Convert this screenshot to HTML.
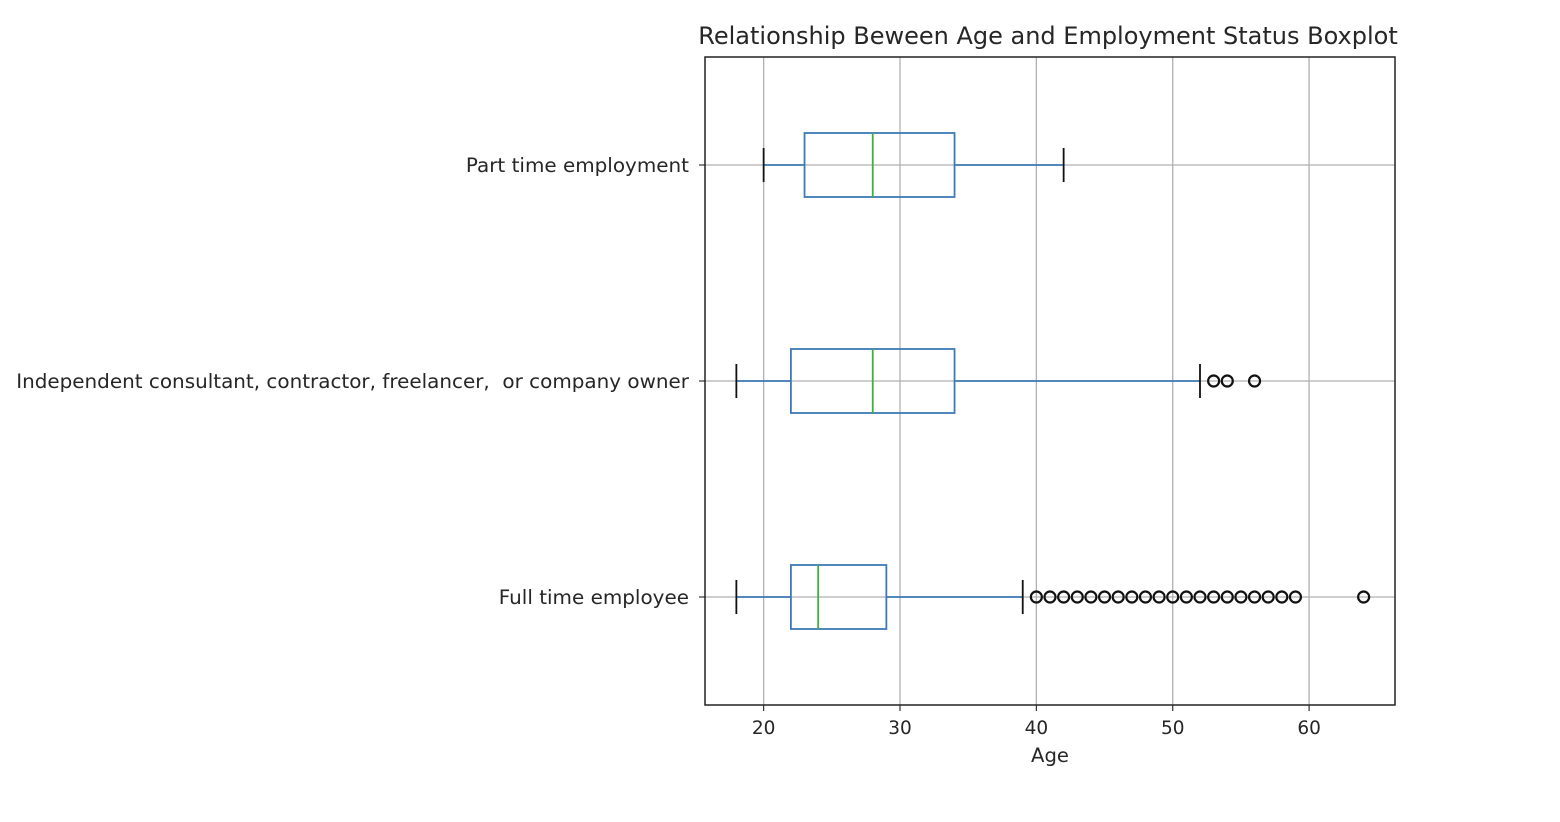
<!DOCTYPE html>
<html><head><meta charset="utf-8"><style>
html,body{margin:0;padding:0;background:#fff;width:1560px;height:822px;overflow:hidden}
svg text{font-family:"DejaVu Sans","Liberation Sans",sans-serif;fill:#262626;white-space:pre}
</style></head><body>
<svg id="chart" width="1560" height="822"></svg>
<script>
const categories=["Full time employee","Independent consultant, contractor, freelancer,  or company owner","Part time employment"];
const whiskerLow=[18,18,20];
const q1=[22,22,23];
const medians=[24,28,28];
const q3=[29,34,34];
const whiskerHigh=[39,52,42];
const outliers=[[40,41,42,43,44,45,46,47,48,49,50,51,52,53,54,55,56,57,58,59,64],[53,54,56],[]];
const xTicks=[20,30,40,50,60];
const NS="http://www.w3.org/2000/svg";
const svg=document.getElementById('chart');
const L=705,R=1395,T=57,B=705,xmin=15.7,xmax=66.3;
const xs=v=>L+(v-xmin)/(xmax-xmin)*(R-L);
const ys=i=>B-(i+0.5)/categories.length*(B-T);
function mk(tag,attrs,parent){const e=document.createElementNS(NS,tag);for(const k in attrs)e.setAttribute(k,attrs[k]);(parent||svg).appendChild(e);return e;}
xTicks.forEach(t=>{
 const g=mk('line',{x1:xs(t),x2:xs(t),y1:T,y2:B,stroke:'#b0b0b0','stroke-width':1.3});
 
 
 const tk=mk('line',{x1:xs(t),x2:xs(t),y1:B,y2:B+6,stroke:'#333','stroke-width':1.2});
 
 
 const tx=mk('text',{x:xs(t),y:B+29,'text-anchor':'middle','font-size':18.5});
 tx.textContent=t;
 
 
});
categories.forEach((c,i)=>{
 const y=ys(i);
 const gl=mk('line',{x1:L,x2:R,y1:y,y2:y,stroke:'#b0b0b0','stroke-width':1.3});
 
 
 const tk=mk('line',{x1:L-6,x2:L,y1:y,y2:y,stroke:'#333','stroke-width':1.2});
 
 
 const tx=mk('text',{x:L-16,y:y+7,'text-anchor':'end','font-size':19.95});
 tx.textContent=c;
 
 
 const g=mk('g',{});
 
 
 const h=32,blue='#3d7ab8';
 mk('line',{x1:xs(whiskerLow[i]),x2:xs(q1[i]),y1:y,y2:y,stroke:blue,'stroke-width':1.8},g);
 mk('line',{x1:xs(q3[i]),x2:xs(whiskerHigh[i]),y1:y,y2:y,stroke:blue,'stroke-width':1.8},g);
 mk('line',{x1:xs(whiskerLow[i]),x2:xs(whiskerLow[i]),y1:y-17,y2:y+17,stroke:'#111','stroke-width':1.8},g);
 mk('line',{x1:xs(whiskerHigh[i]),x2:xs(whiskerHigh[i]),y1:y-17,y2:y+17,stroke:'#111','stroke-width':1.8},g);
 mk('rect',{x:xs(q1[i]),y:y-h,width:xs(q3[i])-xs(q1[i]),height:2*h,fill:'none',stroke:blue,'stroke-width':1.8},g);
 mk('line',{x1:xs(medians[i]),x2:xs(medians[i]),y1:y-h,y2:y+h,stroke:'#3cb03c','stroke-width':1.8},g);
 outliers[i].forEach(v=>{
  const o=mk('circle',{cx:xs(v),cy:y,r:5.5,fill:'none',stroke:'#111','stroke-width':2.2},g);
  
  
 });
});
const fr=mk('rect',{x:L,y:T,width:R-L,height:B-T,fill:'none',stroke:'#222','stroke-width':1.5});


const ti=mk('text',{x:1048,y:44,'text-anchor':'middle','font-size':24});
ti.textContent='Relationship Beween Age and Employment Status Boxplot';


const xl=mk('text',{x:(L+R)/2,y:762,'text-anchor':'middle','font-size':19.6});
xl.textContent='Age';


</script>
</body></html>
